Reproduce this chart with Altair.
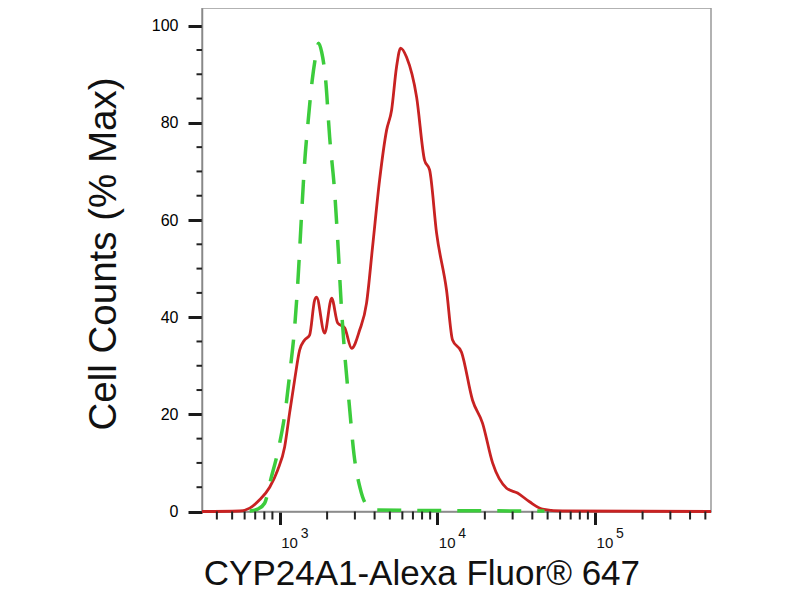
import altair as alt
import pandas as pd

# ---- data (intensity, % of max) ----
red_x = [322, 558, 646, 747, 865, 971, 1076, 1157, 1245, 1339,
         1440, 1549, 1667, 1715, 1928, 2137, 2333, 2584, 2860, 3213,
         3557, 3882, 4302, 4766, 5126, 5510, 5846, 6383, 7387, 8296,
         8928, 9887, 11430, 12480, 14230, 16710, 19330, 22390, 27460, 32240,
         38400, 46430, 62150, 543000]
red_y = [0, 0.1, 0.7, 2.4, 5.0, 8.5, 13.3, 20.3, 27.1, 33.2,
         35.3, 36.3, 43.5, 44.1, 36.7, 43.9, 38.8, 37.8, 33.6, 37.3,
         42.9, 54.4, 68.2, 78.5, 82.6, 91.5, 95.4, 93.5, 85.3, 72.3,
         70.3, 57.3, 45.6, 35.3, 32.8, 22.9, 18.2, 10.0, 4.8, 3.8,
         2.0, 0.5, 0.1, 0]

green_x = [646, 726, 803, 877, 986, 1084, 1166, 1245, 1310, 1369,
           1440, 1516, 1607, 1692, 1767, 1846, 1958, 2075, 2232, 2350,
           2455, 2584, 2757, 2965, 3238, 3557, 3998, 47750]
green_y = [0.1, 0.5, 1.7, 6.5, 13.1, 20.5, 29.1, 37.9, 48.2, 59.5,
           71.7, 80.3, 88.6, 93.7, 96.4, 94.6, 88.8, 77.1, 65.8, 54.2,
           42.9, 32.6, 22.4, 11.6, 4.8, 1.3, 0.3, 0.1]

# ---- tick values and labels ----
major_x = [1000, 10000, 100000]
major_x_base = ["10", "10", "10"]
major_x_exp = ["3", "4", "5"]
minor_x = [400, 500, 600, 700, 800, 900,
           2000, 3000, 4000, 5000, 6000, 7000, 8000, 9000,
           20000, 30000, 40000, 50000, 60000, 70000, 80000, 90000,
           200000, 300000, 400000, 500000]
major_y = [0, 20, 40, 60, 80, 100]
minor_y = [5, 10, 15, 25, 30, 35, 45, 50, 55, 65, 70, 75, 85, 90, 95]

FONT = "Liberation Sans"
W = 509
H = 503.5

xscale = alt.Scale(type="log", domain=[322, 543000], nice=False)
yscale = alt.Scale(domain=[0, 103.64], nice=False, zero=False)

x_axis = alt.Axis(
    values=major_x, tickSize=13, tickWidth=3, tickColor="#1a1a1a",
    labels=False, domainColor="#888", domainWidth=1.5, grid=False,
    title="CYP24A1-Alexa Fluor® 647", titleFont=FONT, titleFontSize=35,
    titleFontWeight="normal", titleColor="#111", titleX=219.4, titleY=72.5,
    titleAlign="center", titleBaseline="alphabetic", titleAngle=0,
)
y_axis = alt.Axis(
    values=major_y, tickSize=14, tickWidth=3, tickColor="#1a1a1a",
    labelFont=FONT, labelFontSize=16, labelColor="#000", labelPadding=10,
    labelFlush=False, domainColor="#888", domainWidth=1.5, grid=False,
    title="Cell Counts (% Max)", titleFont=FONT, titleFontSize=38.5,
    titleFontWeight="normal", titleColor="#111", titleX=-86.5, titleY=245.5,
    titleAngle=270, titleAlign="center", titleBaseline="alphabetic",
)

X = alt.X("x:Q", scale=xscale, axis=x_axis)
Y = alt.Y("y:Q", scale=yscale, axis=y_axis)

red_df = pd.DataFrame({"x": red_x, "y": red_y})
green_df = pd.DataFrame({"x": green_x, "y": green_y})

red_line = alt.Chart(red_df).mark_line(
    color="#c82222", strokeWidth=2.8, interpolate="monotone"
).encode(x=X, y=Y)

green_line = alt.Chart(green_df).mark_line(
    color="#3ccc3c", strokeWidth=3.5, strokeDash=[24, 16], interpolate="monotone"
).encode(x=X, y=Y)

x_minor = alt.Chart(pd.DataFrame({"x": minor_x})).mark_rule(
    color="#222", strokeWidth=2
).encode(x=X, y=alt.value(H), y2=alt.value(H + 8))

y_minor = alt.Chart(pd.DataFrame({"y": minor_y})).mark_rule(
    color="#222", strokeWidth=2
).encode(y=Y, x=alt.value(-5.5), x2=alt.value(0))

lab_df = pd.DataFrame({"x": major_x, "b": major_x_base, "e": major_x_exp})
lab_base = alt.Chart(lab_df).mark_text(
    align="left", baseline="alphabetic", fontSize=15, dx=1.5, font=FONT, color="#111"
).encode(x=X, y=alt.value(H + 36.5), text="b:N")
lab_exp = alt.Chart(lab_df).mark_text(
    align="left", baseline="alphabetic", fontSize=14, dx=21, font=FONT, color="#111"
).encode(x=X, y=alt.value(H + 26.5), text="e:N")

chart = alt.layer(
    red_line, green_line, x_minor, y_minor, lab_base, lab_exp
).properties(
    width=W, height=H,
    autosize=alt.AutoSizeParams(type="none"),
    padding={"left": 194, "top": 0, "right": 81, "bottom": 80.5},
    background="white",
).configure_view(
    stroke="#999", strokeWidth=1.5
)

chart.save("out.html", embed_options={"renderer": "svg", "actions": False})
